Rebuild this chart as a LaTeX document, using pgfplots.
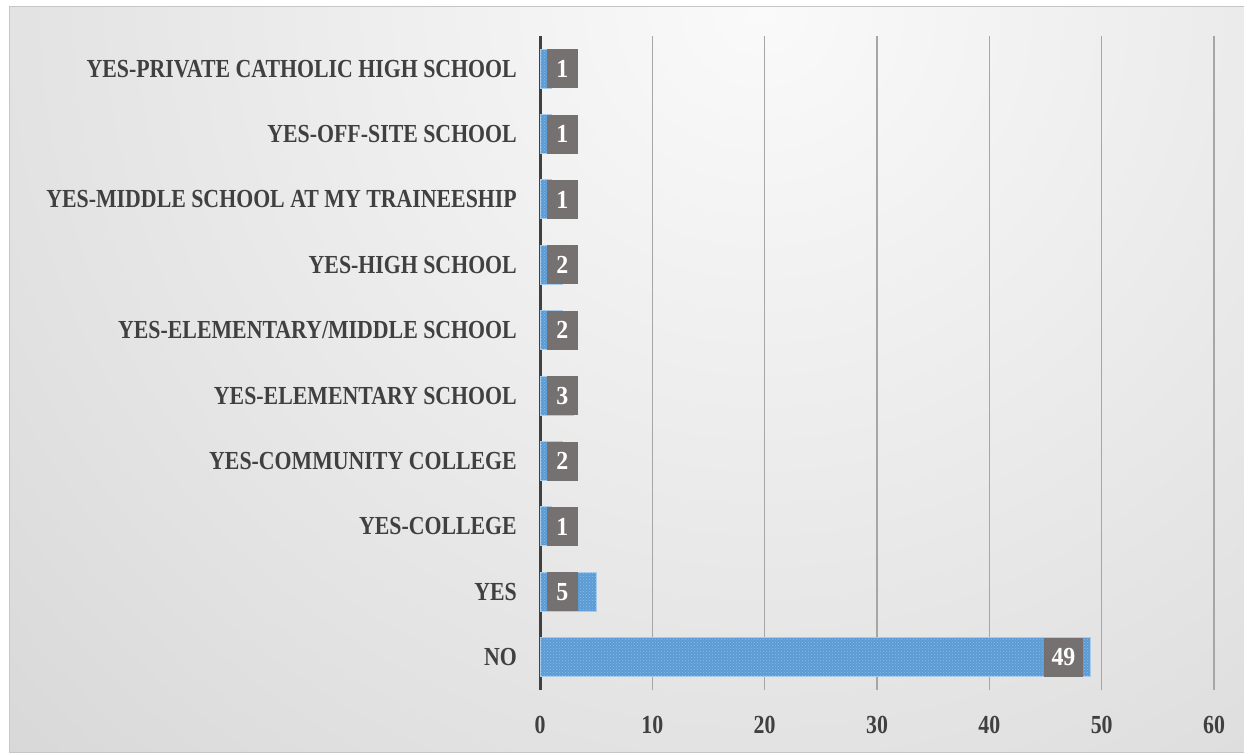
\documentclass[border=0pt]{standalone}
\usepackage{fontspec}
\setmainfont{Liberation Serif}[FakeStretch=0.84]
\newfontfamily\boxfont{Liberation Serif}[FakeStretch=0.92]
\usepackage{pgfplots}
\pgfplotsset{compat=1.18}
\usetikzlibrary{patterns}

\definecolor{barblue}{HTML}{5B9BD5}
\definecolor{bardot}{HTML}{8DBCE6}
\definecolor{baredge}{HTML}{A9CBEA}
\definecolor{labelbox}{HTML}{767171}
\definecolor{txt}{HTML}{404040}
\definecolor{gridc}{HTML}{A6A6A6}
\definecolor{bgA}{HTML}{FAFAFA}
\definecolor{bgB}{HTML}{E2E2E2}
\definecolor{bgC}{HTML}{C6C6C6}

\pgfdeclareradialshading{chartbg}{\pgfpoint{0bp}{0bp}}{%
  color(0bp)=(bgA); color(12bp)=(bgB); color(25bp)=(bgC); color(50bp)=(bgC)}

\begin{document}
\begin{tikzpicture}
\useasboundingbox (0,0) rectangle (1244pt,752pt);
\fill[white] (0,0) rectangle (1244pt,752pt);
\begin{scope}
  \clip (9pt,0) rectangle (1244pt,745pt);
  \shade[shading=chartbg] (760pt,745pt) circle (1600pt);
\end{scope}
\draw[color=gray!45, line width=1pt] (9pt,0) rectangle (1244pt,745pt);

\begin{axis}[
  at={(540pt,62pt)}, anchor=south west,
  scale only axis, width=674pt, height=654pt,
  xmin=0, xmax=60, ymin=-0.5, ymax=9.5,
  xtick={10,20,...,60},
  extra x ticks={0},
  extra x tick style={grid style={color=txt, line width=3pt}},
  ytick={0,...,9},
  yticklabels={NO, YES, YES-COLLEGE, YES-COMMUNITY COLLEGE, YES-ELEMENTARY SCHOOL,
    YES-ELEMENTARY/MIDDLE SCHOOL, YES-HIGH SCHOOL, YES-MIDDLE SCHOOL AT MY TRAINEESHIP,
    YES-OFF-SITE SCHOOL, YES-PRIVATE CATHOLIC HIGH SCHOOL},
  xmajorgrids,
  grid style={color=gridc, line width=1.3pt},
  axis line style={draw=none},
  major tick length=0pt,
  tick style={draw=none},
  /pgf/number format/assume math mode=true,
  ticklabel style={font=\fontsize{26}{30}\selectfont\bfseries, text=txt, inner sep=0pt},
  yticklabel style={anchor=east, xshift=-23pt},
  xticklabel style={anchor=north, yshift=-26pt},
  clip=false,
]
\addplot[xbar, bar width=39pt, fill=barblue, draw=baredge, line width=1pt,
  postaction={pattern=crosshatch dots, pattern color=bardot}] coordinates {
  (49,0) (5,1) (1,2) (2,3) (3,4) (2,5) (2,6) (1,7) (1,8) (1,9)
};
\addplot[draw=none, no markers, nodes near coords, point meta=explicit symbolic,
  nodes near coords style={anchor=center, fill=labelbox, text=white,
    minimum height=39pt, minimum width=31pt, inner xsep=8pt, inner ysep=0pt,
    font=\fontsize{26}{30}\selectfont\boxfont\bfseries}] coordinates {
  (46.6,0) [49] (2.0,1) [5] (2.0,2) [1] (2.0,3) [2] (2.0,4) [3]
  (2.0,5) [2] (2.0,6) [2] (2.0,7) [1] (2.0,8) [1] (2.0,9) [1]
};
\end{axis}
\end{tikzpicture}
\end{document}
